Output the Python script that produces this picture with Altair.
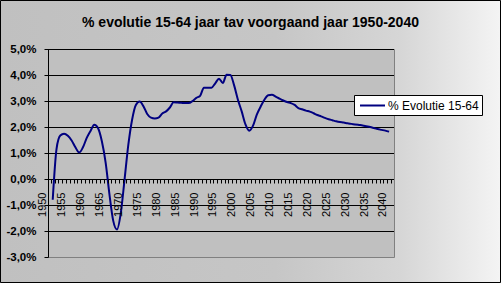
import altair as alt
import pandas as pd

# ---- data ----
years = list(range(1951, 2041))
values = [
    -0.80, 1.15, 1.67, 1.74, 1.66, 1.48, 1.22, 1.02, 1.22, 1.58,   # 1951-1960
    1.85, 2.09, 1.95, 1.45, 0.63, -0.58, -1.60, -1.94, -1.32, -0.03,  # 1961-1970
    1.31, 2.28, 2.85, 2.98, 2.80, 2.50, 2.36, 2.33, 2.36, 2.52,   # 1971-1980
    2.60, 2.75, 2.95, 2.94, 2.93, 2.92, 2.92, 3.00, 3.12, 3.20,   # 1981-1990
    3.51, 3.51, 3.51, 3.68, 3.86, 3.69, 4.01, 4.00, 3.60, 3.05,   # 1991-2000
    2.60, 2.10, 1.86, 2.05, 2.48, 2.78, 3.05, 3.22, 3.24, 3.17,   # 2001-2010
    3.09, 3.02, 2.96, 2.92, 2.85, 2.73, 2.68, 2.63, 2.59, 2.53,   # 2011-2020
    2.46, 2.41, 2.35, 2.30, 2.26, 2.22, 2.19, 2.17, 2.14, 2.12,   # 2021-2030
    2.10, 2.08, 2.06, 2.03, 2.00, 1.96, 1.92, 1.89, 1.86, 1.82,   # 2031-2040
]
series_name = "% Evolutie 15-64"
label_years = list(range(1950, 2041, 5))
category_years = list(range(1950, 2041))
y_ticks = [-3, -2, -1, 0, 1, 2, 3, 4, 5]
grid_values = [-2, -1, 0, 1, 2, 3, 4, 5]
title_text = "% evolutie 15-64 jaar tav voorgaand jaar 1950-2040"

df = pd.DataFrame({"year": years, "value": values, "series": series_name})
grid_df = pd.DataFrame({"value": grid_values})

W, H = 346, 208
FONT = "Liberation Sans"
x_dom = [1949.75, 2041.3]
y_dom = [-3, 5]

xscale = alt.Scale(domain=x_dom, nice=False, zero=False)
yscale = alt.Scale(domain=y_dom, nice=False, zero=False)

y_axis = alt.Axis(
    values=y_ticks,
    grid=False,
    domainColor="black",
    tickColor="black",
    tickSize=4,
    labelPadding=8,
    labelFont=FONT,
    labelFontSize=11.5,
    labelFontWeight="bold",
    labelColor="black",
    labelExpr="(datum.value < 0 ? '-' : '') + replace(format(abs(datum.value), '.1f'), '.', ',') + '%'",
    title=None,
    zindex=1,
)

one = alt.Data(values=[{"k": 1}])

bg = alt.Chart(one).mark_rect(
    fill=alt.Gradient(
        gradient="linear",
        stops=[
            alt.GradientStop(color="#c0c0c0", offset=0),
            alt.GradientStop(color="#c6c6c6", offset=0.55),
            alt.GradientStop(color="#d6d6d6", offset=0.8),
            alt.GradientStop(color="#f4f4f4", offset=1),
        ],
        x1=0, x2=1, y1=0, y2=0,
    ),
    stroke="black",
    strokeWidth=1,
).encode(
    x=alt.value(-47.5), x2=alt.value(452.5),
    y=alt.value(-48.5), y2=alt.value(233.5),
)

plot_bg = alt.Chart(one).mark_rect(
    fill="#c0c0c0", stroke="#808080", strokeWidth=1
).encode(
    x=alt.value(0.5), x2=alt.value(W + 0.5),
    y=alt.value(0.5), y2=alt.value(H + 0.5),
)

grid = alt.Chart(grid_df).mark_rule(color="black", strokeWidth=1, yOffset=0.5).encode(
    y=alt.Y("value:Q", scale=yscale, axis=y_axis),
    x=alt.value(0), x2=alt.value(W),
)

tick_vals = [y + 0.5 for y in category_years]

line = alt.Chart(df).mark_line(strokeWidth=2, interpolate="monotone").encode(
    x=alt.X(
        "year:Q",
        scale=xscale,
        axis=alt.Axis(
            values=tick_vals,
            offset=-78,
            domain=False,
            grid=False,
            ticks=True,
            tickColor="black",
            tickSize=4,
            labelAngle=270,
            labelExpr="(datum.value - 0.5) % 5 == 0 ? format(datum.value - 0.5, 'd') : ''",
            labelOffset=-8,
            labelPadding=9,
            labelOverlap=False,
            labelFont=FONT,
            labelFontSize=11,
            labelColor="black",
            title=None,
            zindex=1,
        ),
    ),
    y=alt.Y("value:Q", scale=yscale, axis=y_axis),
    color=alt.Color(
        "series:N",
        scale=alt.Scale(domain=[series_name], range=["#000080"]),
        legend=alt.Legend(
            orient="none",
            legendX=306,
            legendY=46,
            title=None,
            fillColor="white",
            strokeColor="black",
            padding=3,
            symbolType="M-2,0H2",
            symbolSize=156,
            symbolOffset=8,
            symbolStrokeWidth=2,
            labelFont=FONT,
            labelFontSize=12,
            labelColor="black",
            labelOffset=8,
        ),
    ),
)

chart = alt.layer(bg, plot_bg, grid, line).properties(
    width=W,
    height=H,
    padding={"left": 48, "top": 49, "right": 501 - 48 - W, "bottom": 283 - 49 - H},
    autosize=alt.AutoSizeParams(type="none"),
    title=alt.TitleParams(
        text=title_text,
        font=FONT,
        fontSize=14,
        fontWeight="bold",
        color="black",
        anchor="middle",
        frame="bounds",
        baseline="middle",
        offset=-37,
    ),
).configure_view(stroke=None).configure(background="#c0c0c0")

chart.save("out.html", embed_options={"renderer": "svg", "actions": False})
